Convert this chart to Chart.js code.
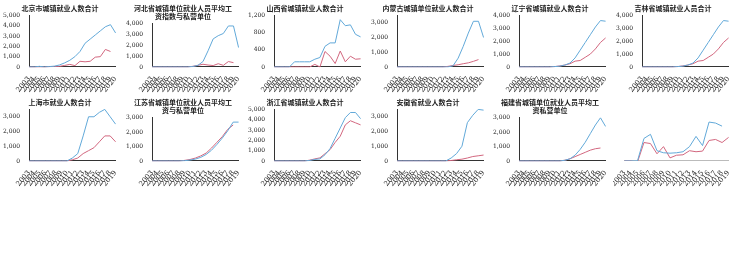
<!DOCTYPE html>
<html>
<head>
<meta charset="utf-8">
<script src="https://cdn.jsdelivr.net/npm/chart.js"></script>
<style>
    body { margin: 0; background: #fff; width: 736px; height: 272px; overflow: hidden; }
    .grid { display: grid; grid-template-columns: repeat(6, 122.6px); grid-auto-rows: 94px; }
    .cell { position: relative; width: 122px; height: 94px; }
</style>
</head>
<body>
<div class="grid" id="grid"></div>
<script>
// categories shared by every panel
const years = ['2003','2004','2005','2006','2007','2008','2009','2010','2011',
               '2012','2013','2014','2015','2016','2017','2018','2019','2020'];

const titles = [
    '北京市城镇就业人数合计',
    '河北省城镇单位就业人员平均工资指数与私营单位',
    '山西省城镇就业人数合计',
    '内蒙古城镇单位就业人数合计',
    '辽宁省城镇就业人数合计',
    '吉林省城镇就业人员合计',
    '上海市就业人数合计',
    '江苏省城镇单位就业人员平均工资与私营单位',
    '浙江省城镇就业人数合计',
    '安徽省就业人数合计',
    '福建省城镇单位就业人员平均工资私营单位',
    ''
];

// blue line per panel
const blueVals = [
    [0, 0, 60, 0, 40, 80, 200, 400, 650, 1000, 1500, 2300, 2700, 3100, 3500, 3900, 4100, 3300],
    [0, 0, 0, 0, 0, 0, 0, 0, 40, 150, 500, 1500, 2600, 2900, 3100, 3800, 3800, 1800],
    [0, 0, 0, 0, 120, 120, 120, 120, 180, 220, 480, 560, 560, 1100, 960, 980, 760, 700, 720],
    [0, 0, 0, 0, 0, 0, 0, 0, 0, 0, 0, 80, 600, 1400, 2300, 3100, 3100, 2000],
    [0, 0, 0, 0, 0, 0, 0, 30, 60, 150, 300, 700, 1300, 1900, 2500, 3100, 3600, 3550],
    [0, 0, 0, 0, 0, 0, 0, 30, 60, 150, 300, 700, 1300, 1900, 2500, 3100, 3600, 3550],
    [0, 0, 0, 0, 0, 0, 0, 0, 200, 500, 1700, 3000, 3000, 3300, 3500, 3000, 2500],
    [0, 0, 0, 0, 0, 0, 20, 60, 130, 250, 450, 750, 1150, 1600, 2100, 2700, 2700],
    [0, 0, 0, 0, 0, 0, 0, 50, 150, 200, 600, 1200, 2200, 3200, 4200, 4700, 4700, 4100],
    [0, 0, 0, 0, 0, 0, 0, 0, 0, 0, 200, 500, 1000, 2600, 3100, 3500, 3450],
    [0, 0, 0, 0, 0, 0, 0, 0, 0, 50, 150, 400, 800, 1300, 1900, 2500, 3000, 2400],
    [0, 0, 0, 1100, 1300, 500, 400, 380, 400, 450, 700, 1200, 750, 1900, 1850, 1700]
];

// red line per panel
const redVals = [
    [0, 0, 0, 0, 30, 50, 60, 150, 250, 130, 550, 500, 550, 950, 1000, 1700, 1500],
    [0, 0, 0, 0, 0, 0, 0, 0, 60, 150, 250, 180, 130, 300, 150, 500, 400],
    [0, 0, 0, 0, 0, 0, 0, 0, 60, 0, 360, 250, 80, 370, 120, 250, 180, 190],
    [0, 0, 0, 0, 0, 0, 0, 0, 0, 0, 40, 100, 150, 220, 280, 380, 500],
    [0, 0, 0, 0, 0, 0, 0, 30, 80, 150, 250, 450, 500, 750, 1000, 1400, 1900, 2250],
    [0, 0, 0, 0, 0, 0, 0, 30, 80, 150, 250, 450, 500, 750, 1000, 1400, 1900, 2250],
    [0, 0, 0, 0, 0, 0, 0, 0, 80, 200, 500, 700, 900, 1300, 1700, 1700, 1300],
    [0, 0, 0, 0, 0, 0, 40, 100, 200, 350, 550, 900, 1300, 1700, 2200, 2500],
    [0, 0, 0, 0, 0, 0, 0, 80, 200, 300, 700, 1100, 1800, 2400, 3500, 3900, 3700, 3500],
    [0, 0, 0, 0, 0, 0, 0, 0, 0, 0, 30, 80, 120, 200, 300, 350, 400],
    [0, 0, 0, 0, 0, 0, 0, 0, 0, 50, 150, 300, 450, 600, 750, 850, 900],
    [0, 0, -60, 900, 850, 350, 700, 150, 280, 300, 500, 450, 480, 1000, 1050, 900, 1150]
];

const blueColor = '#62a9d9';
const redColor = '#d2677f';

const grid = document.getElementById('grid');
titles.forEach(function (title, i) {
    const cell = document.createElement('div');
    cell.className = 'cell';
    const canvas = document.createElement('canvas');
    canvas.width = 122;
    canvas.height = 94;
    cell.appendChild(canvas);
    grid.appendChild(cell);

    const last = i === titles.length - 1;
    const n = Math.max(blueVals[i].length, redVals[i].length);

    new Chart(canvas.getContext('2d'), {
        type: 'line',
        data: {
            labels: years.slice(0, n),
            datasets: [
                { data: blueVals[i], borderColor: blueColor, borderWidth: 1, pointRadius: 0, tension: 0 },
                { data: redVals[i], borderColor: redColor, borderWidth: 1, pointRadius: 0, tension: 0 }
            ]
        },
        options: {
            responsive: false,
            animation: false,
            layout: { padding: { left: 2, right: 4, top: last ? 26 : 2 } },
            plugins: {
                legend: { display: false },
                tooltip: { enabled: false },
                title: {
                    display: !last,
                    text: title.length > 14 ? [title.slice(0, 14), title.slice(14)] : title,
                    font: { family: 'Noto Sans CJK SC', size: 7, weight: 'bold' },
                    color: '#222',
                    padding: { top: 2, bottom: 3 }
                }
            },
            scales: {
                x: {
                    grid: { display: false, drawTicks: true },
                    border: { color: last ? '#bbb' : '#333', width: 1 },
                    ticks: {
                        autoSkip: false, maxRotation: 50, minRotation: 50,
                        font: { family: 'DejaVu Serif', size: 7 }, color: '#222', padding: 0
                    }
                },
                y: {
                    display: !last,
                    min: last ? 0 : undefined,
                    grid: { display: false },
                    border: { color: '#333', width: 1 },
                    ticks: {
                        maxTicksLimit: 9,
                        font: { family: 'DejaVu Serif', size: 6 }, color: '#222', padding: 1
                    }
                }
            }
        }
    });
});
</script>
</body>
</html>
